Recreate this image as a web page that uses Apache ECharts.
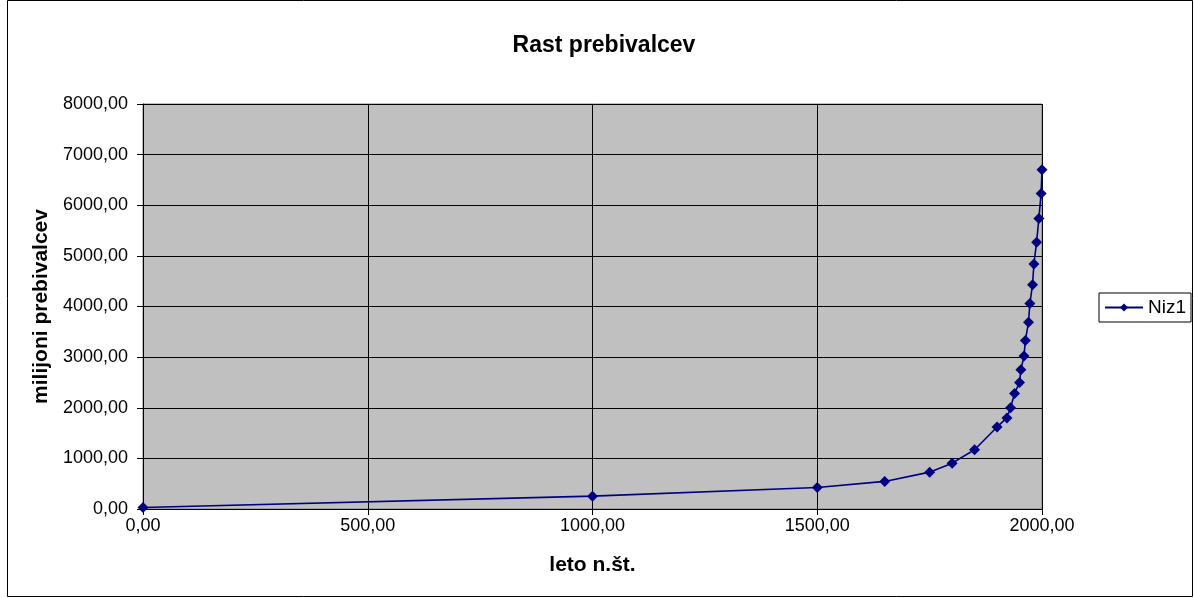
<!DOCTYPE html>
<html>
<head>
<meta charset="utf-8">
<script src="https://cdn.jsdelivr.net/npm/echarts@6/dist/echarts.min.js"></script>
<style>
  html, body { margin: 0; padding: 0; background: #fff; }
  #chart { width: 1194px; height: 598px; }
</style>
</head>
<body>
<div id="chart"></div>
<script>
// leta (n.št.) in število prebivalcev v milijonih, odčitano s slike
var years = [0, 1000, 1500, 1650, 1750, 1800, 1850, 1900, 1922, 1930, 1939, 1950, 1953, 1960, 1963, 1970, 1973, 1979, 1982, 1988, 1993, 1998, 2000];
var population = [30, 254, 425, 545, 728, 906, 1171, 1621, 1800, 2000, 2280, 2500, 2750, 3020, 3330, 3690, 4060, 4430, 4840, 5270, 5740, 6230, 6700];
var seriesName = 'Niz1';

var FONT = '"Liberation Sans", Arial, sans-serif';

function fmt(v) {
  return v.toFixed(2).replace('.', ',');
}

var points = years.map(function (y, i) { return [y, population[i]]; });

var chart = echarts.init(document.getElementById('chart'));
chart.setOption({
  animation: false,
  backgroundColor: '#ffffff',
  title: {
    text: 'Rast prebivalcev',
    left: 599,
    textAlign: 'center',
    top: 29,
    textStyle: { fontFamily: FONT, fontSize: 23, fontWeight: 'bold', color: '#000' }
  },
  legend: {
    left: 1099,
    top: 293,
    data: [seriesName],
    itemWidth: 38,
    itemHeight: 10,
    padding: [5, 5, 5, 5],
    borderColor: '#000',
    borderWidth: 1,
    borderRadius: 0,
    textStyle: { fontFamily: FONT, fontSize: 19, color: '#000' }
  },
  grid: {
    left: 143,
    right: 152,
    top: 104,
    bottom: 89,
    show: true,
    backgroundColor: '#c0c0c0',
    borderColor: '#808080',
    borderWidth: 1
  },
  xAxis: {
    type: 'value',
    min: 0,
    max: 2000,
    interval: 500,
    name: 'leto n.št.',
    nameLocation: 'middle',
    nameGap: 46,
    nameTextStyle: { fontFamily: FONT, fontSize: 21, fontWeight: 'bold', color: '#000' },
    axisLine: { show: true, lineStyle: { color: '#000', width: 1 } },
    axisTick: { show: true, length: 6, inside: false, lineStyle: { color: '#000' } },
    axisLabel: { formatter: fmt, fontFamily: FONT, fontSize: 18, color: '#000', margin: 8 },
    splitLine: { show: true, lineStyle: { color: '#000', width: 1 } }
  },
  yAxis: {
    type: 'value',
    min: 0,
    max: 8000,
    interval: 1000,
    name: 'milijoni prebivalcev',
    nameLocation: 'middle',
    nameGap: 89,
    nameRotate: 90,
    nameTextStyle: { fontFamily: FONT, fontSize: 21, fontWeight: 'bold', color: '#000' },
    axisLine: { show: true, lineStyle: { color: '#000', width: 1 } },
    axisTick: { show: true, length: 6, inside: false, lineStyle: { color: '#000' } },
    axisLabel: { formatter: fmt, fontFamily: FONT, fontSize: 18, color: '#000', margin: 15 },
    splitLine: { show: true, lineStyle: { color: '#000', width: 1 } }
  },
  graphic: [{
    type: 'rect',
    shape: { x: 7.5, y: 0.5, width: 1185, height: 596 },
    style: { fill: 'none', stroke: '#000', lineWidth: 1 },
    silent: true
  }],
  series: [{
    name: seriesName,
    type: 'line',
    data: points,
    symbol: 'diamond',
    symbolSize: 11,
    smooth: false,
    clip: false,
    itemStyle: { color: '#000080' },
    lineStyle: { color: '#000080', width: 1.6 }
  }]
});
</script>
</body>
</html>
